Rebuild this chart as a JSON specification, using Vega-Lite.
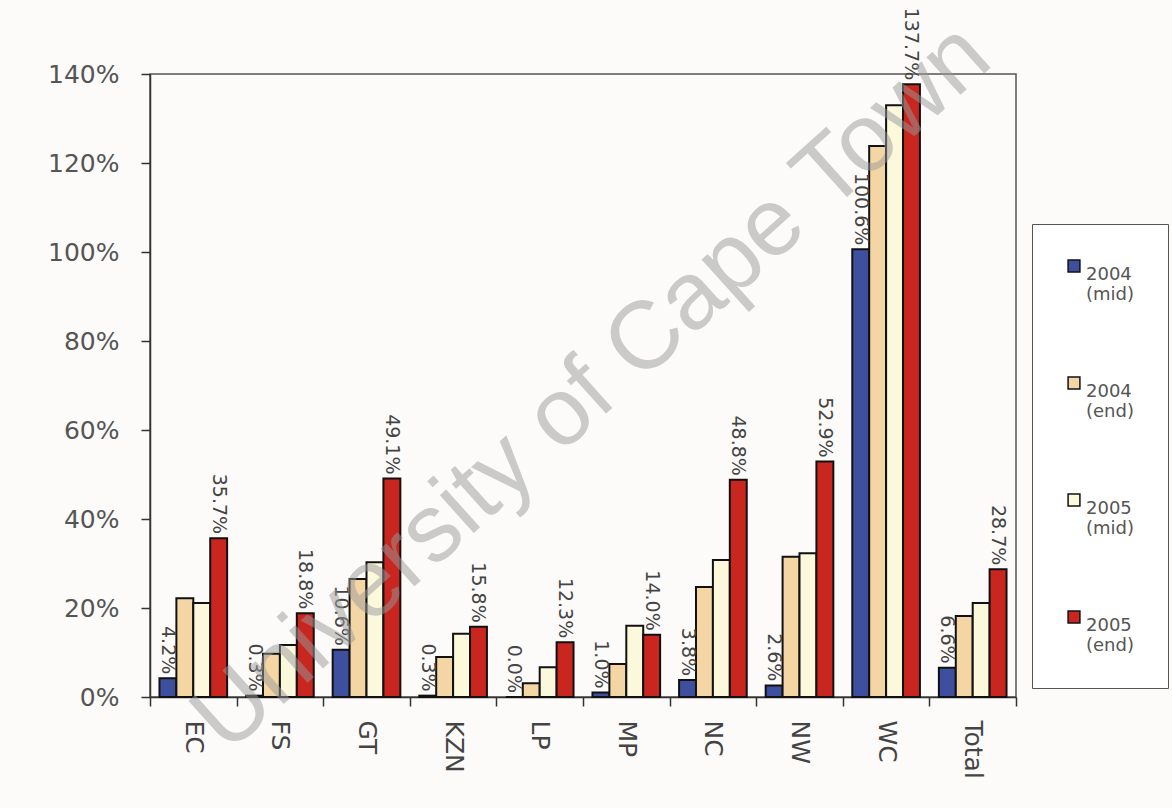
{
  "$schema": "https://vega.github.io/schema/vega-lite/v6.json",
  "width": 866,
  "height": 623,
  "autosize": {"type": "none"},
  "padding": {"left": 150, "top": 74, "right": 156, "bottom": 111},
  "background": "#fcfbf9",
  "config": {
    "view": {"stroke": "#555", "strokeWidth": 1.5},
    "font": "DejaVu Sans"
  },
  "datasets": {
    "bars": [
      {"region": "EC", "series": "2004 (mid)", "value": 4.2},
      {"region": "EC", "series": "2004 (end)", "value": 22.2},
      {"region": "EC", "series": "2005 (mid)", "value": 21.1},
      {"region": "EC", "series": "2005 (end)", "value": 35.7},
      {"region": "FS", "series": "2004 (mid)", "value": 0.3},
      {"region": "FS", "series": "2004 (end)", "value": 9.7},
      {"region": "FS", "series": "2005 (mid)", "value": 11.7},
      {"region": "FS", "series": "2005 (end)", "value": 18.8},
      {"region": "GT", "series": "2004 (mid)", "value": 10.6},
      {"region": "GT", "series": "2004 (end)", "value": 26.5},
      {"region": "GT", "series": "2005 (mid)", "value": 30.3},
      {"region": "GT", "series": "2005 (end)", "value": 49.1},
      {"region": "KZN", "series": "2004 (mid)", "value": 0.3},
      {"region": "KZN", "series": "2004 (end)", "value": 9.0},
      {"region": "KZN", "series": "2005 (mid)", "value": 14.2},
      {"region": "KZN", "series": "2005 (end)", "value": 15.8},
      {"region": "LP", "series": "2004 (mid)", "value": 0.0},
      {"region": "LP", "series": "2004 (end)", "value": 3.1},
      {"region": "LP", "series": "2005 (mid)", "value": 6.7},
      {"region": "LP", "series": "2005 (end)", "value": 12.3},
      {"region": "MP", "series": "2004 (mid)", "value": 1.0},
      {"region": "MP", "series": "2004 (end)", "value": 7.4},
      {"region": "MP", "series": "2005 (mid)", "value": 16.0},
      {"region": "MP", "series": "2005 (end)", "value": 14.0},
      {"region": "NC", "series": "2004 (mid)", "value": 3.8},
      {"region": "NC", "series": "2004 (end)", "value": 24.7},
      {"region": "NC", "series": "2005 (mid)", "value": 30.8},
      {"region": "NC", "series": "2005 (end)", "value": 48.8},
      {"region": "NW", "series": "2004 (mid)", "value": 2.6},
      {"region": "NW", "series": "2004 (end)", "value": 31.5},
      {"region": "NW", "series": "2005 (mid)", "value": 32.3},
      {"region": "NW", "series": "2005 (end)", "value": 52.9},
      {"region": "WC", "series": "2004 (mid)", "value": 100.6},
      {"region": "WC", "series": "2004 (end)", "value": 123.8},
      {"region": "WC", "series": "2005 (mid)", "value": 133.0},
      {"region": "WC", "series": "2005 (end)", "value": 137.7},
      {"region": "Total", "series": "2004 (mid)", "value": 6.6},
      {"region": "Total", "series": "2004 (end)", "value": 18.2},
      {"region": "Total", "series": "2005 (mid)", "value": 21.1},
      {"region": "Total", "series": "2005 (end)", "value": 28.7}
    ],
    "mark": [{"t": "University of Cape Town", "region": "LP", "value": 59}]
  },
  "layer": [
    {
      "data": {"name": "bars"},
      "mark": {"type": "bar", "stroke": "#111", "strokeWidth": 2},
      "encoding": {
        "x": {
          "field": "region",
          "type": "nominal",
          "sort": null,
          "scale": {"domain": ["EC", "FS", "GT", "KZN", "LP", "MP", "NC", "NW", "WC", "Total"], "paddingInner": 0, "paddingOuter": 0},
          "axis": {
            "title": null,
            "labelAngle": 90,
            "labelAlign": "left",
            "labelBaseline": "middle",
            "labelFontSize": 25,
            "labelColor": "#444",
            "labelPadding": 14,
            "tickBand": "extent",
            "tickSize": 9,
            "tickColor": "#333",
            "tickWidth": 1.5,
            "domainColor": "#333",
            "domainWidth": 1.5
          }
        },
        "xOffset": {
          "field": "series",
          "type": "nominal",
          "sort": ["2004 (mid)", "2004 (end)", "2005 (mid)", "2005 (end)"],
          "scale": {"paddingInner": 0, "paddingOuter": 0.56}
        },
        "y": {
          "field": "value",
          "type": "quantitative",
          "scale": {"domain": [0, 140]},
          "axis": {
            "title": null,
            "values": [0, 20, 40, 60, 80, 100, 120, 140],
            "labelExpr": "datum.value + '%'",
            "labelFontSize": 25,
            "labelColor": "#555",
            "labelPadding": 22,
            "tickSize": 9,
            "tickColor": "#333",
            "tickWidth": 1.5,
            "domainColor": "#333",
            "domainWidth": 1.5,
            "grid": false
          }
        },
        "color": {
          "field": "series",
          "type": "nominal",
          "scale": {
            "domain": ["2004 (mid)", "2004 (end)", "2005 (mid)", "2005 (end)"],
            "range": ["#3d4f9e", "#f3d6a4", "#fcf8dc", "#c8261f"]
          },
          "legend": {
            "title": null,
            "orient": "none",
            "legendX": 882,
            "legendY": 150,
            "direction": "vertical",
            "padding": 33,
            "strokeColor": "#555",
            "fillColor": "#ffffff",
            "symbolType": "square",
            "symbolSize": 140,
            "symbolStrokeColor": "#111",
            "symbolStrokeWidth": 1.5,
            "symbolOpacity": 1,
            "labelFontSize": 18,
            "labelColor": "#555",
            "labelExpr": "split(datum.label, ' ')",
            "labelBaseline": "top",
            "labelOffset": 3,
            "rowPadding": 70
          }
        }
      }
    },
    {
      "data": {"name": "bars"},
      "transform": [
        {"filter": "datum.series == '2004 (mid)' || datum.series == '2005 (end)'"},
        {"calculate": "format(datum.value, '.1f') + '%'", "as": "label"}
      ],
      "mark": {"type": "text", "angle": 90, "align": "right", "baseline": "middle", "dx": -4, "fontSize": 19, "color": "#444"},
      "encoding": {
        "x": {"field": "region", "type": "nominal", "sort": null},
        "xOffset": {"field": "series", "type": "nominal", "sort": ["2004 (mid)", "2004 (end)", "2005 (mid)", "2005 (end)"]},
        "y": {"field": "value", "type": "quantitative"},
        "text": {"field": "label", "type": "nominal"}
      }
    },
    {
      "data": {"name": "mark"},
      "mark": {"type": "text", "angle": -42, "align": "center", "baseline": "middle", "font": "Liberation Sans", "fontSize": 96, "color": "#9a9a9a", "opacity": 0.5, "dx": 70},
      "encoding": {
        "x": {"field": "region", "type": "nominal", "sort": null},
        "y": {"field": "value", "type": "quantitative"},
        "text": {"field": "t", "type": "nominal"}
      }
    }
  ]
}
